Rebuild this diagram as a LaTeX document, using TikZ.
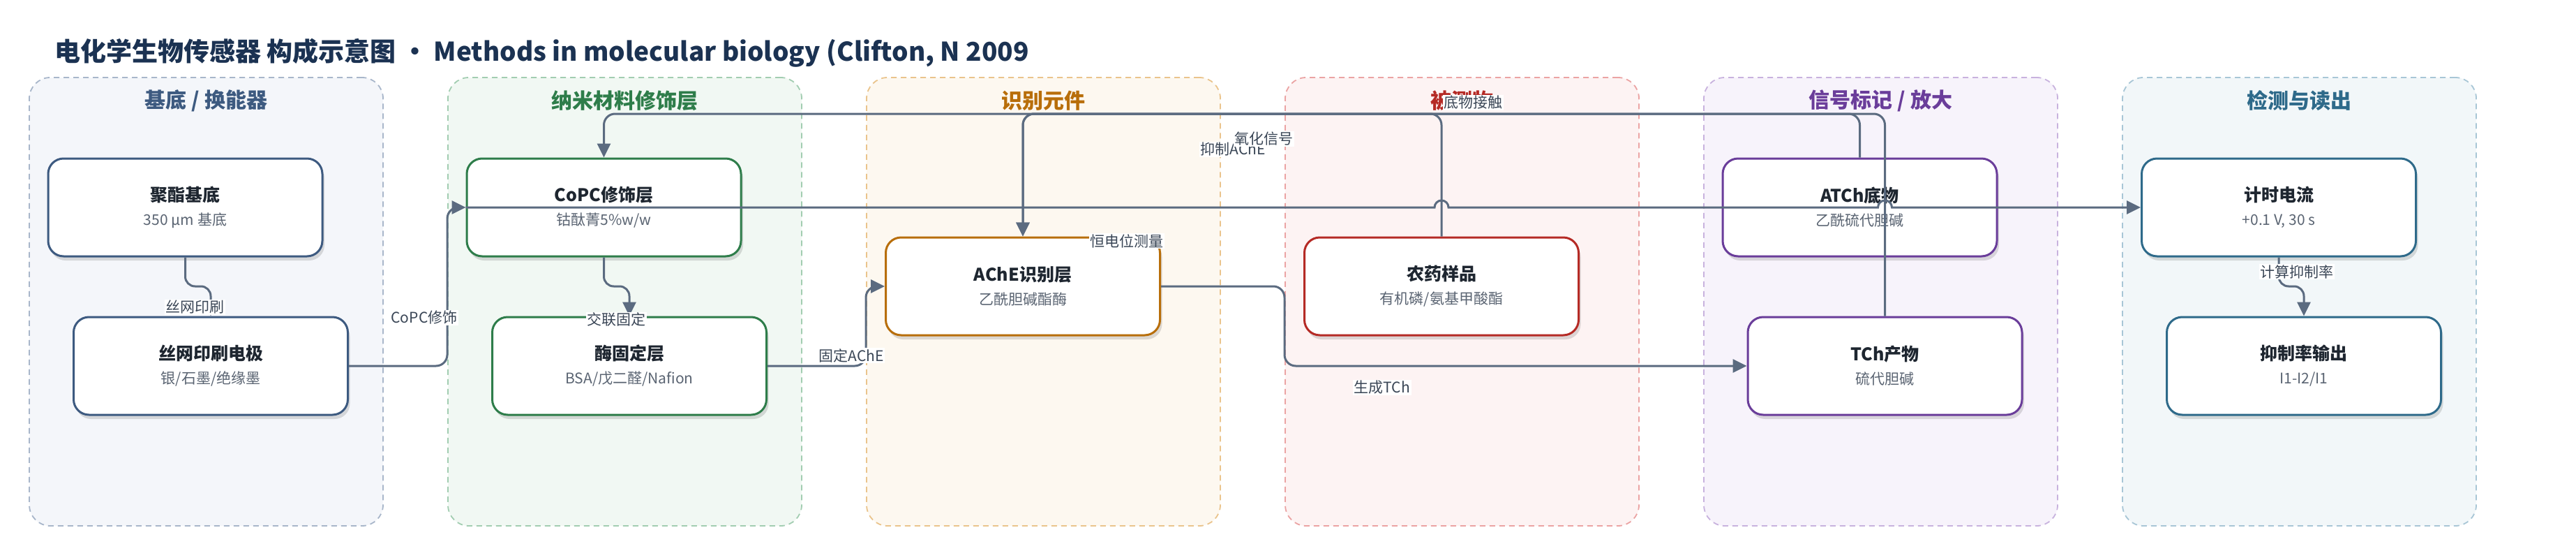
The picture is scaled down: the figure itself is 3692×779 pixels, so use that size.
\documentclass[tikz,border=0pt]{standalone}
\usepackage{fontspec}
\setmainfont{Noto Sans CJK SC}
\usetikzlibrary{arrows.meta,shadows,calc}
\definecolor{titlec}{HTML}{1B3252}
\definecolor{connc}{HTML}{5B6B80}
\definecolor{lblc}{HTML}{3A4656}
\definecolor{ntitle}{HTML}{1E2630}
\definecolor{nsub}{HTML}{5A6472}
\definecolor{bA}{HTML}{3D5A80}\definecolor{fA}{HTML}{F4F6FA}\definecolor{dA}{HTML}{A8B6CA}
\definecolor{bB}{HTML}{2E7D4A}\definecolor{fB}{HTML}{F1F8F3}\definecolor{dB}{HTML}{A2CDB1}
\definecolor{bC}{HTML}{B86E0A}\definecolor{fC}{HTML}{FDF8F0}\definecolor{dC}{HTML}{EAC48C}
\definecolor{bD}{HTML}{B52A25}\definecolor{fD}{HTML}{FDF3F3}\definecolor{dD}{HTML}{EBA3A3}
\definecolor{bE}{HTML}{6A3D9A}\definecolor{fE}{HTML}{F7F3FB}\definecolor{dE}{HTML}{C8B2DE}
\definecolor{bF}{HTML}{2E6A8A}\definecolor{fF}{HTML}{F2F7F9}\definecolor{dF}{HTML}{A8C6D6}
\newcommand\cardtxt[2]{{\bfseries\fontsize{25}{34}\selectfont\color{ntitle}#1}\\{\fontsize{21}{34}\selectfont\color{nsub}#2}}
\begin{document}
\begin{tikzpicture}[x=1pt,y=-1pt,
  panelbox/.style={draw, dash pattern=on 8pt off 6pt, line width=1.8pt, rounded corners=30pt, minimum width=507pt, minimum height=642pt, inner sep=0pt},
  pantitle/.style={font=\bfseries\fontsize{30}{36}\selectfont, inner sep=0pt},
  card/.style={draw, fill=white, line width=3pt, rounded corners=22pt, minimum width=393pt, minimum height=140pt, align=center, inner sep=0pt, font=\fontsize{21}{34}\selectfont, drop shadow={shadow xshift=3pt, shadow yshift=-6pt, opacity=0.13, fill=black}},
  cn/.style={draw=connc, line width=3pt, rounded corners=16pt},
  cnsharp/.style={draw=connc, line width=3pt},
  arr/.style={-{Triangle[length=20pt,width=19pt]}},
  lab/.style={fill=white, inner sep=1.5pt, text=lblc, font=\fontsize{21}{24}\selectfont}
]
\useasboundingbox (0,0) rectangle (3692,779);
\fill[white] (0,0) rectangle (3692,779);

\node[anchor=west, inner sep=0pt, font=\bfseries\fontsize{37}{44}\selectfont, text=titlec] (title) at (78,76) {电化学生物传感器 构成示意图 · Methods in molecular biology (Clifton, N 2009};

% panels
\node[panelbox, draw=dA, fill=fA] (pA) at (295.5,432) {};
\node[panelbox, draw=dB, fill=fB] (pB) at (895.5,432) {};
\node[panelbox, draw=dC, fill=fC] (pC) at (1495.5,432) {};
\node[panelbox, draw=dD, fill=fD] (pD) at (2095.5,432) {};
\node[panelbox, draw=dE, fill=fE] (pE) at (2695.5,432) {};
\node[panelbox, draw=dF, fill=fF] (pF) at (3295.5,432) {};
\node[pantitle, text=bA] (tA) at (295.5,144) {基底 / 换能器};
\node[pantitle, text=bB] (tB) at (895.5,144) {纳米材料修饰层};
\node[pantitle, text=bC] (tC) at (1495.5,144) {识别元件};
\node[pantitle, text=bD] (tD) at (2095.5,144) {被测物};
\node[pantitle, text=bE] (tE) at (2695.5,144) {信号标记 / 放大};
\node[pantitle, text=bF] (tF) at (3295.5,144) {检测与读出};

% cards
\node[card, draw=bA] (juzhi) at (265.5,297) {\cardtxt{聚酯基底}{350 µm 基底}};
\node[card, draw=bA] (siwang) at (302,524) {\cardtxt{丝网印刷电极}{银/石墨/绝缘墨}};
\node[card, draw=bB] (copc) at (865.5,297) {\cardtxt{CoPC修饰层}{钴酞菁5\%w/w}};
\node[card, draw=bB] (mei) at (902,524) {\cardtxt{酶固定层}{BSA/戊二醛/Nafion}};
\node[card, draw=bC] (ache) at (1466,410) {\cardtxt{AChE识别层}{乙酰胆碱酯酶}};
\node[card, draw=bD] (nong) at (2066,410) {\cardtxt{农药样品}{有机磷/氨基甲酸酯}};
\node[card, draw=bE] (atch) at (2665.5,297) {\cardtxt{ATCh底物}{乙酰硫代胆碱}};
\node[card, draw=bE] (tch) at (2701.5,524) {\cardtxt{TCh产物}{硫代胆碱}};
\node[card, draw=bF] (jishi) at (3266,297) {\cardtxt{计时电流}{+0.1 V, 30 s}};
\node[card, draw=bF] (yizhi) at (3302,524) {\cardtxt{抑制率输出}{I1-I2/I1}};

% helper coordinates
\coordinate (ytop) at (0,163);
\coordinate (jog) at (0,410);
\coordinate (xA) at (641,0);
\coordinate (xB) at (1241,0);
\coordinate (xC) at (1841,0);

% connectors
\draw[cn, arr, rounded corners=14pt] (juzhi.south) -- (juzhi.south |- jog) -- (siwang.north |- jog) -- (siwang.north);
\draw[cn, arr] (siwang.east) -- (siwang.east -| xA) -- (copc.west -| xA) -- (copc.west);
\draw[cn, arr, rounded corners=14pt] (copc.south) -- (copc.south |- jog) -- (mei.north |- jog) -- (mei.north);
\draw[cn, arr] (mei.east) -- (mei.east -| xB) -- (ache.west -| xB) -- (ache.west);
\draw[cn, arr] (ache.east) -- (ache.east -| xC) -- (tch.west -| xC) -- (tch.west);
\draw[cn, arr] (nong.north) -- (nong.north |- ytop) -- (ache.north |- ytop) -- (ache.north);
\draw[cn, arr] (atch.north) -- (atch.north |- ytop) -- (ache.north |- ytop) -- (ache.north);
\draw[cn, arr] (tch.north) -- (tch.north |- ytop) -- (copc.north |- ytop) -- (copc.north);
\draw[cnsharp, arr] (copc.west) -- ($(nong.north |- copc.west)+(-10,0)$) arc[start angle=180, end angle=0, radius=10pt] -- ($(tch.north |- copc.west)+(-10,0)$) arc[start angle=180, end angle=0, radius=10pt] -- (jishi.west);
\draw[cn, arr, rounded corners=14pt] (jishi.south) -- (jishi.south |- jog) -- (yizhi.north |- jog) -- (yizhi.north);

% labels
\node[lab] (l1) at (279,440) {丝网印刷};
\node[lab] (l2) at (608,455) {CoPC修饰};
\node[lab] (l3) at (883,458) {交联固定};
\node[lab] (l4) at (1220,509) {固定AChE};
\node[lab] (l5) at (1615,345) {恒电位测量};
\node[lab] (l6) at (1767,214) {抑制AChE};
\node[lab] (l7) at (1811,199) {氧化信号};
\node[lab] (l8) at (2111,147) {底物接触};
\node[lab] (l9) at (1981,555) {生成TCh};
\node[lab] (l10) at (3292,389) {计算抑制率};
\end{tikzpicture}
\end{document}
